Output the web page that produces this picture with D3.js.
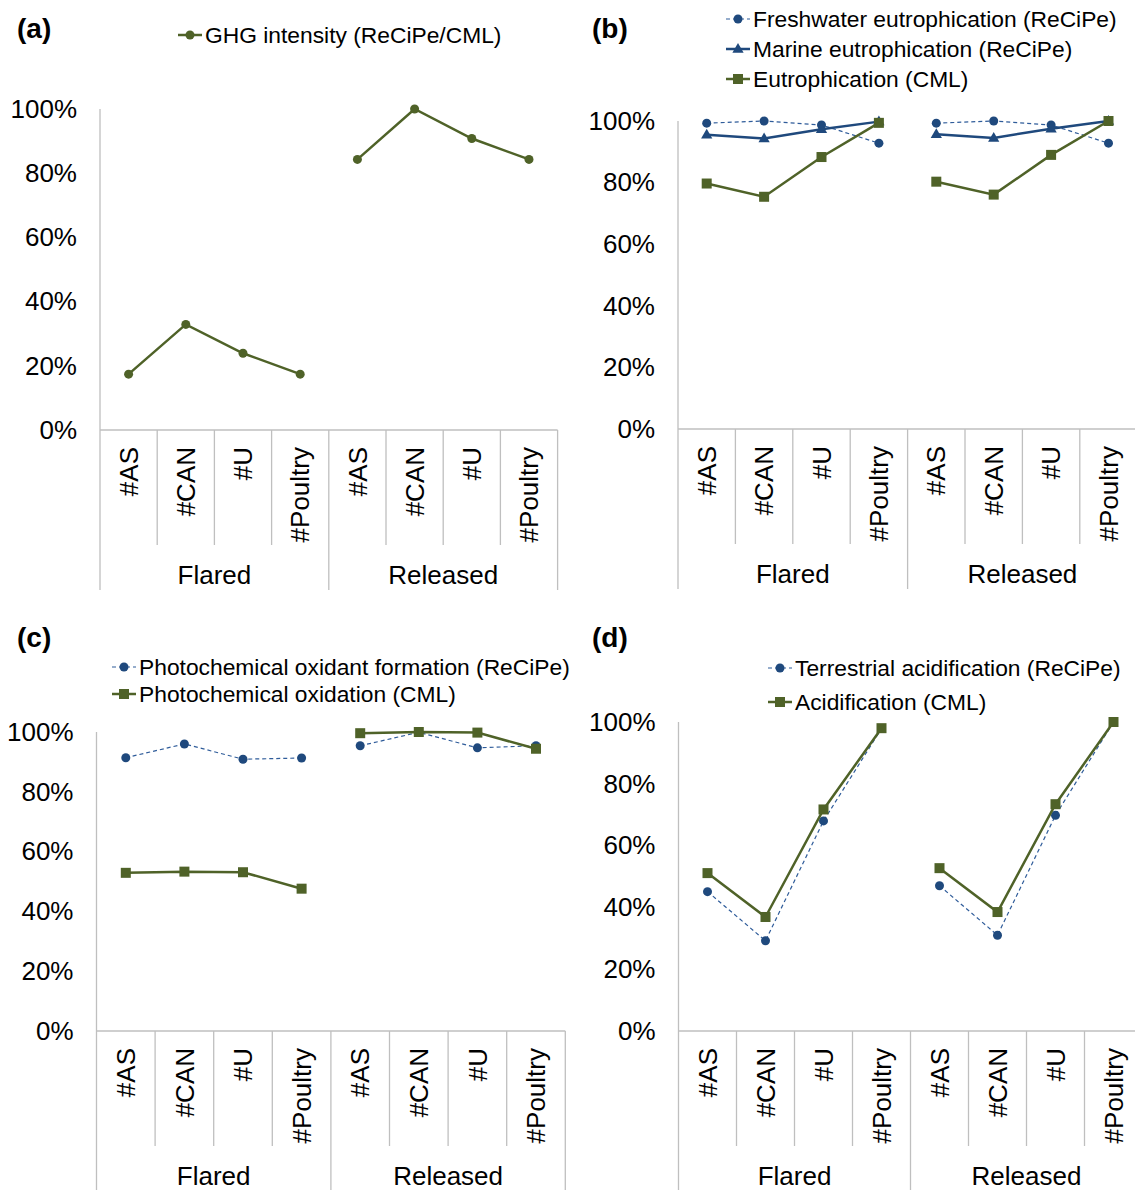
<!DOCTYPE html>
<html>
<head>
<meta charset="utf-8">
<script src="https://cdn.jsdelivr.net/npm/d3@7"></script>
<style>
  body { margin: 0; background: #fff; }
  svg text { font-family: "Liberation Sans", Arial, sans-serif; fill: #000; }
</style>
</head>
<body>
<script>
// categories
var groups = ["Flared", "Released"];
var products = ["#AS", "#CAN", "#U", "#Poultry"];
var yTicks = [0, 20, 40, 60, 80, 100];

// series values, % of the max
var ghgIntensity = [17.4, 32.9, 23.9, 17.4, 84.3, 100, 90.8, 84.3];
var freshwaterEutro = [99.3, 100, 98.7, 92.8, 99.3, 100, 98.7, 92.8];
var marineEutro = [95.5, 94.3, 97.3, 99.8, 95.7, 94.5, 97.5, 100];
var eutroCML = [79.7, 75.4, 88.3, 99.4, 80.3, 76.1, 89.0, 100];
var photoOxidantReCiPe = [91.4, 96.0, 90.9, 91.3, 95.4, 99.9, 94.7, 95.4];
var photoOxidationCML = [52.9, 53.3, 53.1, 47.6, 99.6, 100, 99.8, 94.4];
var terrestrialAcid = [45.1, 29.2, 68.0, 97.9, 47.0, 31.0, 69.8, 100];
var acidCML = [51.1, 36.9, 71.7, 98.0, 52.7, 38.5, 73.4, 100];

var green = "#4f6228";
var blue = "#1f497d";
var axisGrey = "#bfbfbf";

var keys = [];
groups.forEach(function(g){
	products.forEach(function(p){ keys.push(g + "|" + p); });
});

var svg = d3.select("body").append("svg")
	.attr("width", 1135)
	.attr("height", 1190);

var styles = {
	dot:   { stroke: "#2f5c9a", width: 1.2, dash: "4,3", marker: "circle", fill: blue },
	dotG:  { stroke: green, width: 2.5, dash: null, marker: "circle", fill: green },
	tri:   { stroke: blue, width: 2.5, dash: null, marker: "triangle", fill: blue },
	sq:    { stroke: green, width: 2.5, dash: null, marker: "square", fill: green }
};

function drawMarker(g, type, x, y, fill){
	if(type == "circle"){
		g.append("circle").attr("cx", x).attr("cy", y).attr("r", 4.5).attr("fill", fill);
	} else if(type == "square"){
		g.append("rect").attr("x", x - 5).attr("y", y - 5).attr("width", 10).attr("height", 10).attr("fill", fill);
	} else {
		g.append("path").attr("d", d3.symbol().type(d3.symbolTriangle).size(55)).attr("transform", "translate(" + x + "," + (y + 0.5) + ")").attr("fill", fill);
	}
}

function drawPanel(cfg){
	var g = svg.append("g");
	var x = d3.scaleBand().domain(keys).range([cfg.x0, cfg.x0 + cfg.slot * keys.length]).padding(0);
	var y = d3.scaleLinear().domain([0, 100]).range([cfg.y0, cfg.y100]);
	var bottom = cfg.y0 + 160;

	// panel label
	g.append("text").text(cfg.label)
		.attr("x", cfg.labelX).attr("y", cfg.labelY).attr("dy", "0.35em")
		.attr("font-size", 28).attr("font-weight", "bold");

	// y tick labels
	var yAxis = g.append("g")
		.attr("transform", "translate(" + cfg.x0 + ",0)")
		.call(d3.axisLeft(y).tickValues(yTicks).tickSize(0).tickPadding(23).tickFormat(function(d){ return d + "%"; }));
	yAxis.select(".domain").remove();
	yAxis.attr("font-family", null).attr("font-size", 26);
	yAxis.selectAll("text").attr("fill", "#000");

	// axis lines
	g.append("line").attr("x1", cfg.x0).attr("x2", cfg.x0).attr("y1", cfg.y100).attr("y2", bottom)
		.attr("stroke", axisGrey).attr("stroke-width", 1.3);
	g.append("line").attr("x1", cfg.x0).attr("x2", x.range()[1]).attr("y1", cfg.y0).attr("y2", cfg.y0)
		.attr("stroke", axisGrey).attr("stroke-width", 1.3);
	keys.forEach(function(k, i){
		var xr = x(k) + x.bandwidth();
		var isGroupEnd = (i + 1) % products.length == 0;
		g.append("line").attr("x1", xr).attr("x2", xr).attr("y1", cfg.y0)
			.attr("y2", isGroupEnd ? bottom : cfg.y0 + 115)
			.attr("stroke", axisGrey).attr("stroke-width", 1.3);
	});

	// category labels
	keys.forEach(function(k){
		var cx = x(k) + x.bandwidth() / 2;
		g.append("text").text(k.split("|")[1])
			.attr("transform", "translate(" + cx + "," + (cfg.y0 + 17) + ") rotate(-90)")
			.attr("text-anchor", "end").attr("dy", "0.35em")
			.attr("font-size", 26);
	});
	groups.forEach(function(gr, gi){
		var first = x(gr + "|" + products[0]);
		var last = x(gr + "|" + products[products.length - 1]) + x.bandwidth();
		g.append("text").text(gr)
			.attr("x", (first + last) / 2).attr("y", cfg.y0 + 145)
			.attr("text-anchor", "middle").attr("dy", "0.35em")
			.attr("font-size", 26);
	});

	// series, each group drawn as its own line
	cfg.series.forEach(function(s){
		var st = styles[s.style];
		groups.forEach(function(gr, gi){
			var pts = products.map(function(p, pi){
				return [x(gr + "|" + p) + x.bandwidth() / 2, y(s.values[gi * products.length + pi])];
			});
			g.append("path").attr("d", d3.line()(pts))
				.attr("fill", "none").attr("stroke", st.stroke).attr("stroke-width", st.width)
				.attr("stroke-dasharray", st.dash);
			pts.forEach(function(p){ drawMarker(g, st.marker, p[0], p[1], st.fill); });
		});
	});

	// legend
	cfg.series.forEach(function(s, i){
		var st = styles[s.style];
		var ly = cfg.legY + i * cfg.legStep;
		g.append("line").attr("x1", cfg.legX).attr("x2", cfg.legX + 24).attr("y1", ly).attr("y2", ly)
			.attr("stroke", st.stroke).attr("stroke-width", st.width).attr("stroke-dasharray", st.dash);
		drawMarker(g, st.marker, cfg.legX + 12, ly, st.fill);
		g.append("text").text(s.name)
			.attr("x", cfg.legX + 27).attr("y", ly).attr("dy", "0.35em")
			.attr("font-size", 22.8);
	});
}

drawPanel({
	label: "(a)", labelX: 17, labelY: 28,
	x0: 100, slot: 57.2, y0: 430, y100: 109,
	legX: 178, legY: 35, legStep: 30,
	series: [
		{ name: "GHG intensity (ReCiPe/CML)", values: ghgIntensity, style: "dotG" }
	]
});

drawPanel({
	label: "(b)", labelX: 592, labelY: 28,
	x0: 678, slot: 57.4, y0: 429, y100: 121,
	legX: 726, legY: 19, legStep: 30,
	series: [
		{ name: "Freshwater eutrophication (ReCiPe)", values: freshwaterEutro, style: "dot" },
		{ name: "Marine eutrophication (ReCiPe)", values: marineEutro, style: "tri" },
		{ name: "Eutrophication (CML)", values: eutroCML, style: "sq" }
	]
});

drawPanel({
	label: "(c)", labelX: 17, labelY: 637,
	x0: 96.5, slot: 58.6, y0: 1031, y100: 732,
	legX: 112, legY: 667, legStep: 27,
	series: [
		{ name: "Photochemical oxidant formation (ReCiPe)", values: photoOxidantReCiPe, style: "dot" },
		{ name: "Photochemical oxidation (CML)", values: photoOxidationCML, style: "sq" }
	]
});

drawPanel({
	label: "(d)", labelX: 592, labelY: 637,
	x0: 678.5, slot: 58, y0: 1031, y100: 722,
	legX: 768, legY: 668, legStep: 34,
	series: [
		{ name: "Terrestrial acidification (ReCiPe)", values: terrestrialAcid, style: "dot" },
		{ name: "Acidification (CML)", values: acidCML, style: "sq" }
	]
});
</script>
</body>
</html>
